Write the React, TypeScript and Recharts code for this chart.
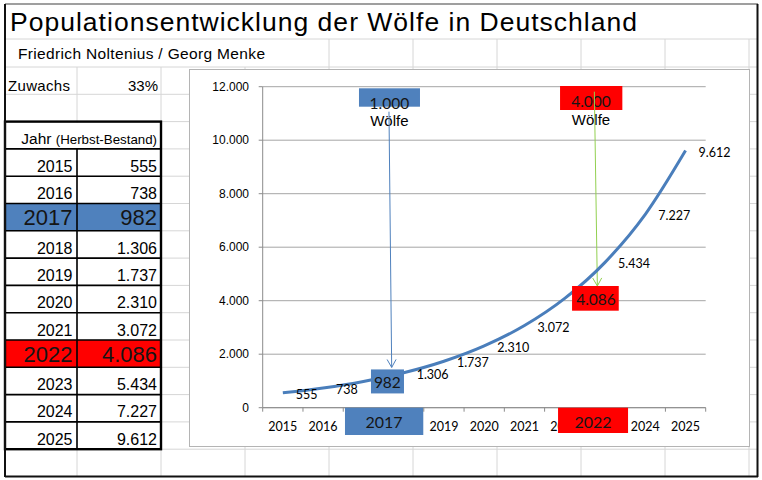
import React from 'react';
import { LineChart, Line, XAxis, YAxis, CartesianGrid, LabelList, ReferenceLine } from 'recharts';

// ---------- data ----------
const years = [2015, 2016, 2017, 2018, 2019, 2020, 2021, 2022, 2023, 2024, 2025];
const wolves = [555, 738, 982, 1306, 1737, 2310, 3072, 4086, 5434, 7227, 9612];
const yTicks = [0, 2000, 4000, 6000, 8000, 10000, 12000];
const highlightYears = [2017, 2022];
const milestoneLabels = ['1.000', '4.000'];
const unitWord = 'Wölfe';
const growthLabel = 'Zuwachs';
const growthValue = '33%';
const titleText = 'Populationsentwicklung der Wölfe in Deutschland';
const authorsText = 'Friedrich Noltenius / Georg Menke';
const headerMain = 'Jahr';
const headerSub = '(Herbst-Bestand)';

const data = years.map((year, i) => ({ year, wolves: wolves[i] }));

const fmt = (n: number) => String(n).replace(/\B(?=(\d{3})+(?!\d))/g, '.');

// ---------- styles / geometry ----------
const ARIAL = '"Liberation Sans", Arial, sans-serif';
const CAL = 'Lato, "Noto Sans", sans-serif';
const GRID = '#d6d6d6';
const AXIS = '#8c8c8c';
const CHART_GRID = '#a6a6a6';
const LINE = '#4A7EBB';
const HL = [
  { fill: '#4F81BD', arrow: '#4F81BD' },
  { fill: '#FF0000', arrow: '#92D050' },
];
// per-highlight placement of annotation shapes (pixel offsets)
const TOPBOX = [
  { x0: -4.4, x1: 56.6, y0: 1.6, y1: 20, tx: 26, ty: 16, wy: 33.5, ax0: 25.6, ay0: 25, ax1: 28.3, ay1: -14 },
  { x0: -4.7, x1: 57.6, y0: -0.7, y1: 23.3, tx: 26.3, ty: 14, wy: 32.3, ax0: 29.6, ay0: 5, ax1: 32.6, ay1: -12.4 },
];
const LBLBOX = [
  { x0: 7.6, x1: 40.6, y0: -12, y1: 12, tx: 24 },
  { x0: 7.3, x1: 54, y0: -12.4, y1: 12.3, tx: 31.3 },
];
const XBOX = [
  { x0: -18.4, x1: 59.9, h: 27.3, tx: 20.7 },
  { x0: -6.7, x1: 63.3, h: 25.3, tx: 28.3 },
];

const INNER_W = 559;
const INNER_H = 376;
const M_TOP = 16.7;
const M_RIGHT = 43.3;
const Y_W = 72.7;
const X_H = 38.3;
const PLOT_W = INNER_W - Y_W - M_RIGHT;
const BAND = PLOT_W / years.length;

const rowY = (k: number) => 67 + 27.3 * k;
const COLS = [5, 77, 161, 245, 329, 413, 497, 581, 665, 749];

// ---------- chart pieces ----------
const XTick = (props: any) => {
  const { x, y, payload } = props;
  const i = years.indexOf(payload.value);
  const half = BAND / 2;
  const boxes = highlightYears.map((yr, h) => {
    const j = years.indexOf(yr);
    const c = x + (j - i) * BAND;
    return { j, h, a: c + XBOX[h].x0, b: c + XBOX[h].x1 };
  });
  const covered = (a: number, b: number) => boxes.some((bx) => bx.j < i && a < bx.b && b > bx.a);
  const own = boxes.find((bx) => bx.j === i);
  const els: any[] = [];
  if (!covered(x - half - 0.5, x - half + 0.5)) {
    els.push(<line key="t" x1={x - half} x2={x - half} y1={y} y2={y + 4} stroke={AXIS} />);
  }
  if (i === years.length - 1) {
    els.push(<line key="t2" x1={x + half} x2={x + half} y1={y} y2={y + 4} stroke={AXIS} />);
  }
  const hiddenByOwn = own && own.a <= x - 14 && own.b >= x + 14;
  if (!covered(x - 14, x + 14) && !hiddenByOwn) {
    els.push(
      <text key="l" x={x} y={y + 19} textAnchor="middle" dominantBaseline="central" fontFamily={CAL} fontSize={12.5} fill="#000">
        {payload.value}
      </text>
    );
  }
  if (own) {
    const s = XBOX[own.h];
    els.push(<rect key="b" x={x + s.x0} y={y} width={s.x1 - s.x0} height={s.h} fill={HL[own.h].fill} />);
    els.push(
      <text key="bt" x={x + s.tx} y={y + 14} textAnchor="middle" dominantBaseline="central" fontFamily={CAL} fontSize={16} fill="#151515">
        {payload.value}
      </text>
    );
  }
  return <g>{els}</g>;
};

const renderLabel = (props: any) => {
  const vb = props.viewBox || {};
  const px = props.x ?? vb.x;
  const py = props.y ?? vb.y;
  const idx = props.index;
  const value = props.value;
  const h = highlightYears.indexOf(years[idx]);
  if (h >= 0) {
    const s = LBLBOX[h];
    return (
      <g>
        <rect x={px + s.x0} y={py + s.y0} width={s.x1 - s.x0} height={s.y1 - s.y0} fill={HL[h].fill} />
        <text x={px + s.tx} y={py + 0.5} textAnchor="middle" dominantBaseline="central" fontFamily={CAL} fontSize={15.5} fill="#151515">
          {fmt(value)}
        </text>
      </g>
    );
  }
  return (
    <text x={px + 13} y={py + 1.5} dominantBaseline="central" fontFamily={CAL} fontSize={12.5} fill="#000">
      {fmt(value)}
    </text>
  );
};

const arrowHead = (x1: number, y1: number, x2: number, y2: number, color: string) => {
  const dx = x2 - x1;
  const dy = y2 - y1;
  const len = Math.hypot(dx, dy);
  const ux = dx / len;
  const uy = dy / len;
  const L = 8;
  const W = 4.5;
  const bx = x2 - ux * L;
  const by = y2 - uy * L;
  const nx = -uy;
  const ny = ux;
  return (
    <polyline
      points={`${bx + nx * W},${by + ny * W} ${x2},${y2} ${bx - nx * W},${by - ny * W}`}
      fill="none"
      stroke={color}
      strokeWidth={1}
    />
  );
};

const makeMilestone = (h: number) => (p: any) => {
  const { x1, y1, y2 } = p;
  const s = TOPBOX[h];
  const ax0 = x1 + s.ax0;
  const ay0 = y1 + s.ay0;
  const ax1 = x1 + s.ax1;
  const ay1 = y2 + s.ay1;
  return (
    <g>
      <rect x={x1 + s.x0} y={y1 + s.y0} width={s.x1 - s.x0} height={s.y1 - s.y0} fill={HL[h].fill} />
      <text x={x1 + s.tx} y={y1 + s.ty} textAnchor="middle" dominantBaseline="central" fontFamily={CAL} fontSize={15.5} fill="#151515">
        {milestoneLabels[h]}
      </text>
      <text x={x1 + s.tx} y={y1 + s.wy} textAnchor="middle" dominantBaseline="central" fontFamily={ARIAL} fontSize={15} fill="#000">
        {unitWord}
      </text>
      <line x1={ax0} y1={ay0} x2={ax1} y2={ay1} stroke={HL[h].arrow} strokeWidth={1} />
      {arrowHead(ax0, ay0, ax1, ay1, HL[h].arrow)}
    </g>
  );
};

// ---------- sheet ----------
const Sheet = () => {
  const lines: any[] = [];
  lines.push(<line key="h39" x1={5} x2={757} y1={39} y2={39} stroke={GRID} />);
  lines.push(<line key="h67" x1={5} x2={757} y1={67} y2={67} stroke={GRID} />);
  for (let k = 1; k <= 14; k++) {
    lines.push(<line key={'h' + k} x1={5} x2={757} y1={rowY(k)} y2={rowY(k)} stroke={GRID} />);
  }
  COLS.forEach((c) => {
    if (c >= 329) lines.push(<line key={'v2' + c} x1={c} x2={c} y1={39} y2={67} stroke={GRID} />);
    if (c > 5) lines.push(<line key={'v' + c} x1={c} x2={c} y1={67} y2={476} stroke={GRID} />);
  });

  const tableTop = rowY(2);
  const tableBottom = rowY(14);
  const rows = years.map((yr, i) => {
    const k = 3 + i;
    const top = rowY(k);
    const bottom = rowY(k + 1);
    const h = highlightYears.indexOf(yr);
    const big = h >= 0;
    const fs = big ? 22 : 16;
    const base = bottom - (big ? 5.5 : 4.5);
    return (
      <g key={yr}>
        {big && <rect x={5} y={top} width={156} height={bottom - top} fill={HL[h].fill} />}
        <text x={72.5} y={base} textAnchor="end" fontFamily={ARIAL} fontSize={fs} fill={big ? '#151515' : '#000'}>
          {yr}
        </text>
        <text x={157} y={base} textAnchor="end" fontFamily={ARIAL} fontSize={fs} fill={big ? '#151515' : '#000'}>
          {fmt(wolves[i])}
        </text>
      </g>
    );
  });

  const tableLines: any[] = [];
  for (let k = 3; k <= 13; k++) {
    tableLines.push(<line key={'t' + k} x1={5} x2={161} y1={rowY(k)} y2={rowY(k)} stroke="#000" strokeWidth={1.6} />);
  }

  return (
    <svg width={762} height={480} style={{ position: 'absolute', left: 0, top: 0 }}>
      <rect x={0} y={0} width={762} height={480} fill="#fff" />
      {lines}
      <rect x={6} y={tableTop + 1} width={154} height={rowY(3) - tableTop - 2} fill="#fff" />
      {rows}
      {tableLines}
      <line x1={77} x2={77} y1={rowY(3)} y2={tableBottom} stroke="#000" strokeWidth={1.6} />
      <rect x={5} y={tableTop} width={156} height={tableBottom - tableTop} fill="none" stroke="#000" strokeWidth={2.4} />

      <text x={10} y={31} fontFamily={ARIAL} fontSize={26.5} textLength={627} lengthAdjust="spacing" fill="#000">
        {titleText}
      </text>
      <text x={18} y={59} fontFamily={ARIAL} fontSize={15.5} textLength={247} lengthAdjust="spacing" fill="#000">
        {authorsText}
      </text>
      <text x={8} y={90.5} fontFamily={ARIAL} fontSize={15} textLength={62} lengthAdjust="spacing" fill="#000">
        {growthLabel}
      </text>
      <text x={158} y={90.5} textAnchor="end" fontFamily={ARIAL} fontSize={15} fill="#000">
        {growthValue}
      </text>
      <text x={157} y={rowY(3) - 4.5} textAnchor="end" fontFamily={ARIAL} fill="#000">
        <tspan fontSize={15.5}>{headerMain} </tspan>
        <tspan fontSize={13.3}>{headerSub}</tspan>
      </text>

      <line x1={5} x2={758} y1={4} y2={4} stroke="#7f7f7f" strokeWidth={1.5} />
      <line x1={5} x2={5} y1={4} y2={477} stroke="#111" strokeWidth={2} />
      <line x1={757.5} x2={757.5} y1={4} y2={477} stroke="#111" strokeWidth={2} />
      <line x1={5} x2={758} y1={476.5} y2={476.5} stroke="#111" strokeWidth={2} />
    </svg>
  );
};

export default function App() {
  return (
    <div style={{ position: 'absolute', left: 0, top: 0, width: 762, height: 480, background: '#fff', overflow: 'hidden' }}>
      <Sheet />
      <div
        style={{
          position: 'absolute',
          left: 189,
          top: 69,
          width: INNER_W,
          height: INNER_H,
          border: '1px solid #b4b4b4',
          background: '#fff',
        }}
      >
        <LineChart width={INNER_W} height={INNER_H} data={data} margin={{ top: M_TOP, right: M_RIGHT, left: 0, bottom: 0 }}>
          <CartesianGrid vertical={false} stroke={CHART_GRID} />
          <XAxis
            dataKey="year"
            type="category"
            interval={0}
            tickSize={0}
            tickMargin={0}
            tickLine={false}
            axisLine={{ stroke: AXIS }}
            height={X_H}
            padding={{ left: BAND / 2, right: BAND / 2 }}
            tick={(p: any) => <XTick {...p} />}
          />
          <YAxis
            type="number"
            domain={[0, 12000]}
            ticks={yTicks}
            interval={0}
            width={Y_W}
            tickSize={4}
            tickMargin={9.7}
            tickLine={{ stroke: AXIS }}
            axisLine={{ stroke: AXIS }}
            tickFormatter={(v: number) => fmt(v)}
            tick={{ fontSize: 12, fill: '#000', fontFamily: ARIAL }}
          />
          {highlightYears.map((yr, h) => (
            <ReferenceLine
              key={yr}
              segment={[
                { x: yr, y: 12000 },
                { x: yr, y: wolves[years.indexOf(yr)] },
              ]}
              ifOverflow="visible"
              shape={makeMilestone(h)}
            />
          ))}
          <Line
            type="monotone"
            dataKey="wolves"
            stroke={LINE}
            strokeWidth={3}
            dot={false}
            activeDot={false}
            isAnimationActive={false}
          >
            <LabelList dataKey="wolves" content={renderLabel} />
          </Line>
        </LineChart>
      </div>
    </div>
  );
}
